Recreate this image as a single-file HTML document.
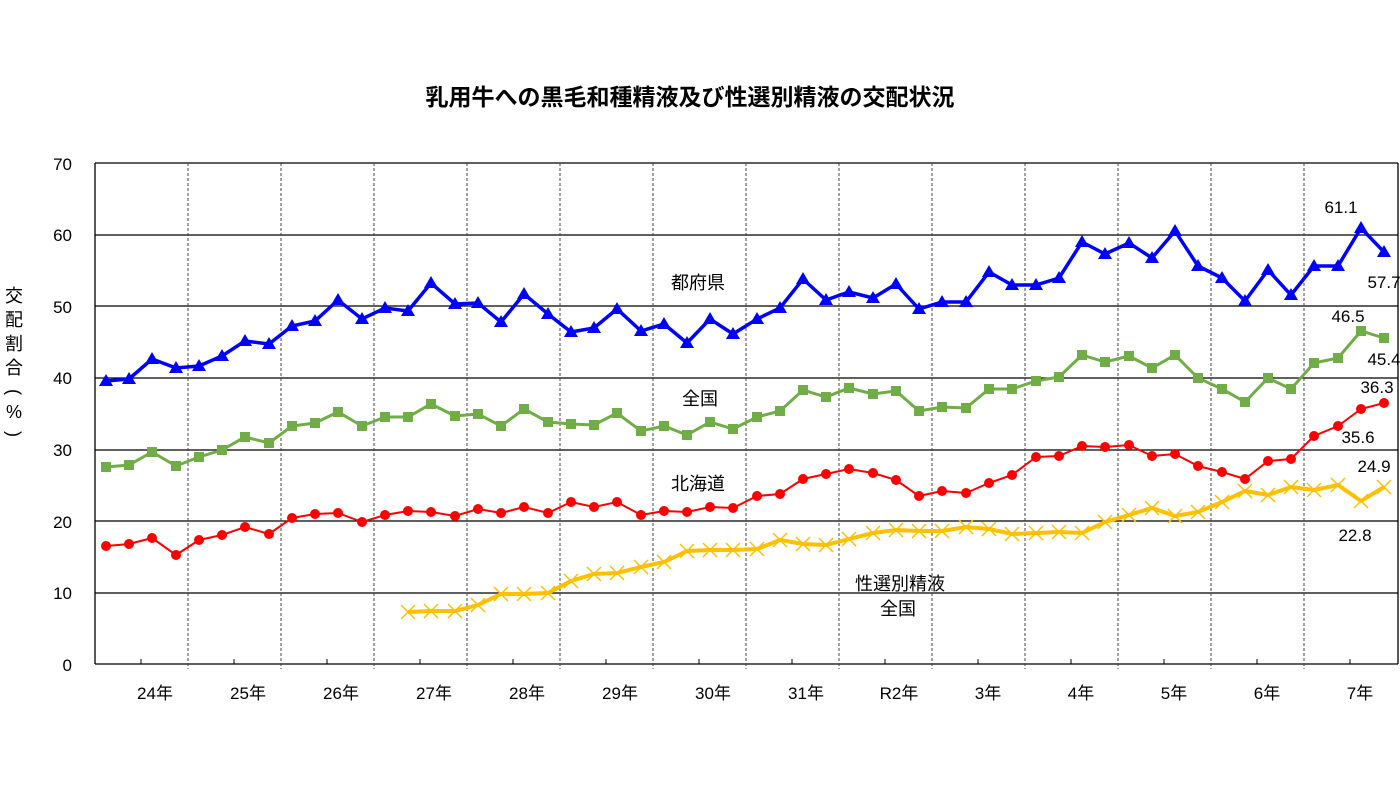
<!DOCTYPE html>
<html><head><meta charset="utf-8"><style>
body{margin:0;background:#fff;}
svg text{font-family:"Liberation Sans","Noto Sans CJK JP",sans-serif;fill:#000;}
</style></head><body>
<svg width="1400" height="787" xmlns="http://www.w3.org/2000/svg">
<rect width="1400" height="787" fill="#fff"/>
<text x="690" y="105" font-size="23" font-weight="bold" text-anchor="middle">乳用牛への黒毛和種精液及び性選別精液の交配状況</text>
<g stroke="#000" stroke-width="1.3">
<line x1="95" y1="163" x2="1398" y2="163"/>
<line x1="95" y1="235" x2="1398" y2="235"/>
<line x1="95" y1="306" x2="1398" y2="306"/>
<line x1="95" y1="378" x2="1398" y2="378"/>
<line x1="95" y1="450" x2="1398" y2="450"/>
<line x1="95" y1="521" x2="1398" y2="521"/>
<line x1="95" y1="593" x2="1398" y2="593"/>
<line x1="95" y1="664" x2="1398" y2="664"/>
<line x1="95" y1="163" x2="95" y2="664"/>
<line x1="1398" y1="163" x2="1398" y2="664"/>
</g>
<g stroke="#000" stroke-width="1">
<line x1="141" y1="659" x2="141" y2="664"/><line x1="234" y1="659" x2="234" y2="664"/>
<line x1="327" y1="659" x2="327" y2="664"/><line x1="420" y1="659" x2="420" y2="664"/>
<line x1="513" y1="659" x2="513" y2="664"/><line x1="606" y1="659" x2="606" y2="664"/>
<line x1="699" y1="659" x2="699" y2="664"/><line x1="792" y1="659" x2="792" y2="664"/>
<line x1="885" y1="659" x2="885" y2="664"/><line x1="978" y1="659" x2="978" y2="664"/>
<line x1="1071" y1="659" x2="1071" y2="664"/><line x1="1164" y1="659" x2="1164" y2="664"/>
<line x1="1257" y1="659" x2="1257" y2="664"/><line x1="1350" y1="659" x2="1350" y2="664"/>
</g>
<g stroke="#444" stroke-width="1" stroke-dasharray="3,2">
<line x1="188" y1="163" x2="188" y2="669"/><line x1="281" y1="163" x2="281" y2="669"/>
<line x1="374" y1="163" x2="374" y2="669"/><line x1="467" y1="163" x2="467" y2="669"/>
<line x1="560" y1="163" x2="560" y2="669"/><line x1="653" y1="163" x2="653" y2="669"/>
<line x1="746" y1="163" x2="746" y2="669"/><line x1="839" y1="163" x2="839" y2="669"/>
<line x1="932" y1="163" x2="932" y2="669"/><line x1="1025" y1="163" x2="1025" y2="669"/>
<line x1="1118" y1="163" x2="1118" y2="669"/><line x1="1211" y1="163" x2="1211" y2="669"/>
<line x1="1304" y1="163" x2="1304" y2="669"/>
</g>
<g font-size="17" text-anchor="end">
<text x="72" y="170">70</text><text x="72" y="241">60</text><text x="72" y="313">50</text>
<text x="72" y="384">40</text><text x="72" y="456">30</text><text x="72" y="528">20</text>
<text x="72" y="599">10</text><text x="72" y="671">0</text>
</g>
<g font-size="17" text-anchor="middle">
<text x="155" y="699">24年</text><text x="248" y="699">25年</text><text x="341" y="699">26年</text>
<text x="434" y="699">27年</text><text x="527" y="699">28年</text><text x="620" y="699">29年</text>
<text x="713" y="699">30年</text><text x="806" y="699">31年</text><text x="899" y="699">R2年</text>
<text x="988" y="699">3年</text><text x="1081" y="699">4年</text><text x="1174" y="699">5年</text>
<text x="1267" y="699">6年</text><text x="1360" y="699">7年</text>
</g>
<g font-size="18" text-anchor="middle">
<text x="14" y="302">交</text><text x="14" y="326">配</text><text x="14" y="350">割</text>
<text x="14" y="374">合</text><text x="14" y="398" transform="rotate(90 14 392)">(</text>
<text x="14" y="418">%</text><text x="14" y="440" transform="rotate(90 14 434)">)</text>
</g>
<polyline fill="none" stroke="#0000ff" stroke-width="3.5" points="106,381 129,379 152,359 176,368 199,366 222,356 245,341 269,344 292,326 315,321 338,300 362,319 385,308 408,311 431,283 455,304 478,303 501,322 524,294 548,314 571,332 594,328 617,309 641,331 664,324 687,343 710,319 733,334 757,319 780,308 803,279 826,300 849,292 873,298 896,284 919,309 942,302 966,302 989,272 1012,285 1036,285 1059,278 1082,242 1105,254 1129,243 1152,258 1175,231 1198,266 1222,278 1245,301 1268,270 1291,295 1314,266 1338,266 1361,228 1384,252"/>
<polyline fill="none" stroke="#70ad47" stroke-width="3" points="106,467 129,465 152,452 176,466 199,457 222,450 245,437 269,443 292,426 315,423 338,412 362,426 385,417 408,417 431,404 455,416 478,414 501,426 524,409 548,422 571,424 594,425 617,413 641,431 664,426 687,435 710,422 733,429 757,417 780,411 803,390 826,397 849,388 873,394 896,391 919,411 942,407 966,408 989,389 1012,389 1036,381 1059,377 1082,355 1105,362 1129,356 1152,368 1175,355 1198,378 1222,389 1245,402 1268,378 1291,389 1314,363 1338,358 1361,331 1384,338"/>
<polyline fill="none" stroke="#ff0000" stroke-width="2" points="106,546 129,544 152,538 176,555 199,540 222,535 245,527 269,534 292,518 315,514 338,513 362,522 385,515 408,511 431,512 455,516 478,509 501,513 524,507 548,513 571,502 594,507 617,502 641,515 664,511 687,512 710,507 733,508 757,496 780,494 803,479 826,474 849,469 873,473 896,480 919,496 942,491 966,493 989,483 1012,475 1036,457 1059,456 1082,446 1105,447 1129,445 1152,456 1175,454 1198,466 1222,472 1245,479 1268,461 1291,459 1314,436 1338,426 1361,409 1384,403"/>
<polyline fill="none" stroke="#ffc000" stroke-width="4" points="408,612 431,611 455,611 478,605 501,594 524,594 548,593 571,581 594,574 617,573 641,567 664,562 687,551 710,550 733,550 757,549 780,540 803,544 826,545 849,539 873,533 896,530 919,531 942,531 966,527 989,529 1012,534 1036,533 1059,532 1082,533 1105,522 1129,515 1152,508 1175,516 1198,512 1222,502 1245,491 1268,495 1291,487 1314,490 1338,485 1361,501 1384,487"/>
<script>
(function(){
var ns="http://www.w3.org/2000/svg",svg=document.querySelector('svg');
function pts(i){return svg.querySelectorAll('polyline')[i].getAttribute('points').trim().split(/\s+/).map(function(p){return p.split(',').map(Number);});}
function add(tag,attrs){var e=document.createElementNS(ns,tag);for(var k in attrs)e.setAttribute(k,attrs[k]);svg.appendChild(e);}
pts(0).forEach(function(p){add('polygon',{points:(p[0]-7)+','+(p[1]+5)+' '+(p[0]+7)+','+(p[1]+5)+' '+p[0]+','+(p[1]-7),fill:'#0000ff'});});
pts(1).forEach(function(p){add('rect',{x:p[0]-5,y:p[1]-5,width:10,height:10,fill:'#70ad47'});});
pts(2).forEach(function(p){add('circle',{cx:p[0],cy:p[1],r:5,fill:'#ff0000'});});
pts(3).forEach(function(p){add('path',{d:'M'+(p[0]-7)+' '+(p[1]-7)+'L'+(p[0]+7)+' '+(p[1]+7)+'M'+(p[0]+7)+' '+(p[1]-7)+'L'+(p[0]-7)+' '+(p[1]+7),stroke:'#ffc000','stroke-width':1.5,fill:'none'});});
})();
</script>
<g font-size="18" text-anchor="middle">
<text x="698" y="289">都府県</text>
<text x="700" y="405">全国</text>
<text x="698" y="490">北海道</text>
<text x="900" y="590">性選別精液</text>
<text x="898" y="615">全国</text>
</g>
<g font-size="17" text-anchor="middle">
<text x="1341" y="213">61.1</text>
<text x="1384" y="288">57.7</text>
<text x="1348" y="322">46.5</text>
<text x="1384" y="365">45.4</text>
<text x="1377" y="393">36.3</text>
<text x="1358" y="443">35.6</text>
<text x="1374" y="472">24.9</text>
<text x="1355" y="541">22.8</text>
</g>
</svg>
</body></html>
